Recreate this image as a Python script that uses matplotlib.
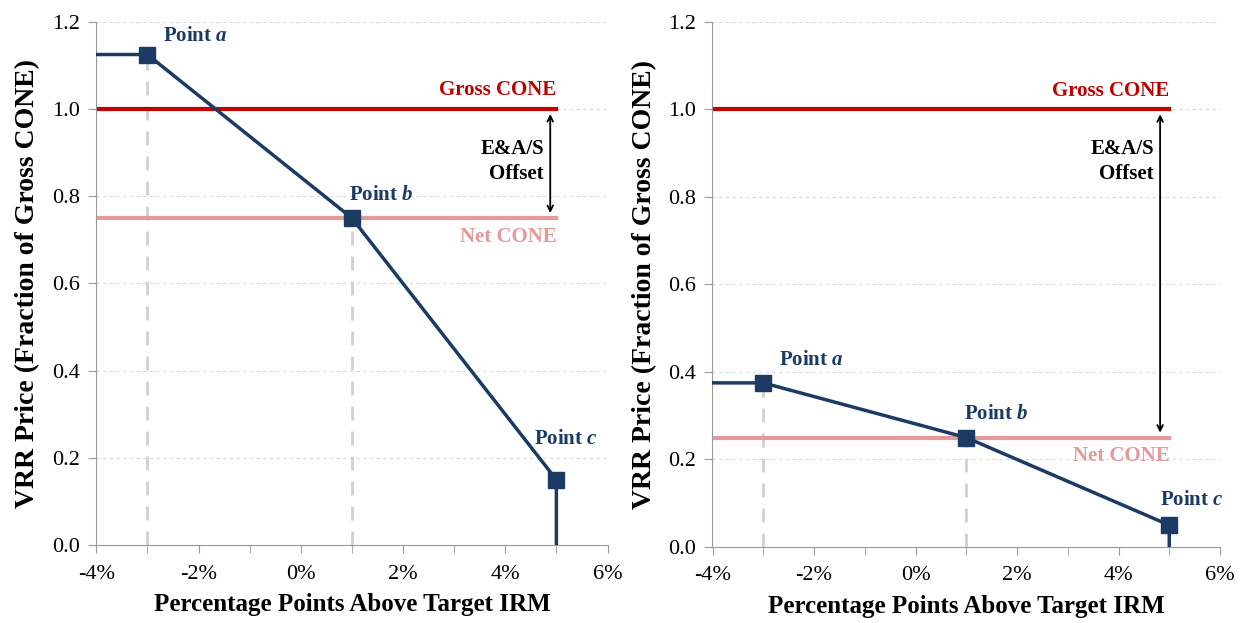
import matplotlib.pyplot as plt
import numpy as np
from matplotlib.ticker import FuncFormatter, MultipleLocator

plt.rcParams['font.family'] = ['Liberation Serif', 'DejaVu Serif']
plt.rcParams['mathtext.fontset'] = 'custom'
plt.rcParams['mathtext.it'] = 'Liberation Serif:italic:bold'
plt.rcParams['mathtext.rm'] = 'Liberation Serif:bold'

# curve points (x in %, y in fraction of Gross CONE)
curve_x = [-4, -3, 1, 5, 5]
left_y = [1.125, 1.125, 0.75, 0.15, 0.0]
right_y = [0.375, 0.375, 0.25, 0.05, 0.0]
point_names = ['a', 'b', 'c']
gross_cone = 1.0
left_net = 0.75
right_net = 0.25

navy = '#1b3a64'
red = '#c00000'
pink = '#e6999a'

fig = plt.figure(figsize=(12.5, 6.23), dpi=100)
ax1 = fig.add_axes([0.077, 0.125, 0.409, 0.84])
ax2 = fig.add_axes([0.570, 0.122, 0.406, 0.843])

def draw(ax, ys, net, arrow_x, lab_off):
    ax.set_xlim(-4, 6)
    ax.set_ylim(0, 1.2)
    for y in np.arange(0.2, 1.21, 0.2):
        ax.axhline(y, color='#d9d9d9', lw=0.8, ls=(0, (3, 3)), zorder=0)
    # dashed guides under points a and b
    for i in (1, 2):
        ax.plot([curve_x[i], curve_x[i]], [0, ys[i]], color='#d0d0d0', lw=2, ls=(0, (5, 4)), zorder=1)
    ax.plot([-4, 5], [gross_cone, gross_cone], color=red, lw=3, zorder=2)
    ax.plot([-4, 5], [net, net], color=pink, lw=3, zorder=2)
    ax.plot(curve_x, ys, color=navy, lw=2.5, zorder=3)
    ax.plot(curve_x[1:4], ys[1:4], 's', color=navy, ms=11, zorder=4)
    for k, i in enumerate((1, 2, 3)):
        dx, dy = lab_off[k]
        ax.text(curve_x[i] + dx, ys[i] + dy, 'Point $%s$' % point_names[k],
                color=navy, fontsize=15, fontweight='bold', ha='left', va='bottom')
    ax.text(5, gross_cone + 0.02, 'Gross CONE', color=red, fontsize=15, fontweight='bold',
            ha='right', va='bottom')
    ax.text(5, net - 0.02, 'Net CONE', color=pink, fontsize=15, fontweight='bold',
            ha='right', va='top')
    ax.annotate('', xy=(arrow_x, gross_cone - 0.005), xytext=(arrow_x, net + 0.005),
                arrowprops=dict(arrowstyle='<->', color='black', lw=1.3))
    ax.text(arrow_x - 0.12, 0.88, 'E&A/S\nOffset', fontsize=15, fontweight='bold',
            ha='right', va='center', linespacing=1.35)
    ax.xaxis.set_major_locator(MultipleLocator(2))
    ax.xaxis.set_minor_locator(MultipleLocator(1))
    ax.xaxis.set_major_formatter(FuncFormatter(lambda v, p: '%d%%' % v))
    ax.yaxis.set_major_locator(MultipleLocator(0.2))
    ax.yaxis.set_major_formatter(FuncFormatter(lambda v, p: '%.1f' % v))
    ax.tick_params(axis='x', which='both', direction='out', length=6, color='#999999', labelsize=16, pad=8)
    ax.tick_params(axis='y', direction='out', length=6, color='#999999', labelsize=16, pad=6)
    for s in ('top', 'right'):
        ax.spines[s].set_visible(False)
    for s in ('left', 'bottom'):
        ax.spines[s].set_color('#999999')
    ax.set_xlabel('Percentage Points Above Target IRM', fontsize=18, fontweight='bold', labelpad=7)
    ax.set_ylabel('VRR Price (Fraction of Gross CONE)', fontsize=20, fontweight='bold', labelpad=8)

draw(ax1, left_y, left_net, 4.88,
     [(0.3, 0.02), (-0.05, 0.03), (-0.43, 0.07)])
draw(ax2, right_y, right_net, 4.82,
     [(0.32, 0.03), (-0.05, 0.03), (-0.18, 0.035)])

fig.savefig('out.png', dpi=100)
